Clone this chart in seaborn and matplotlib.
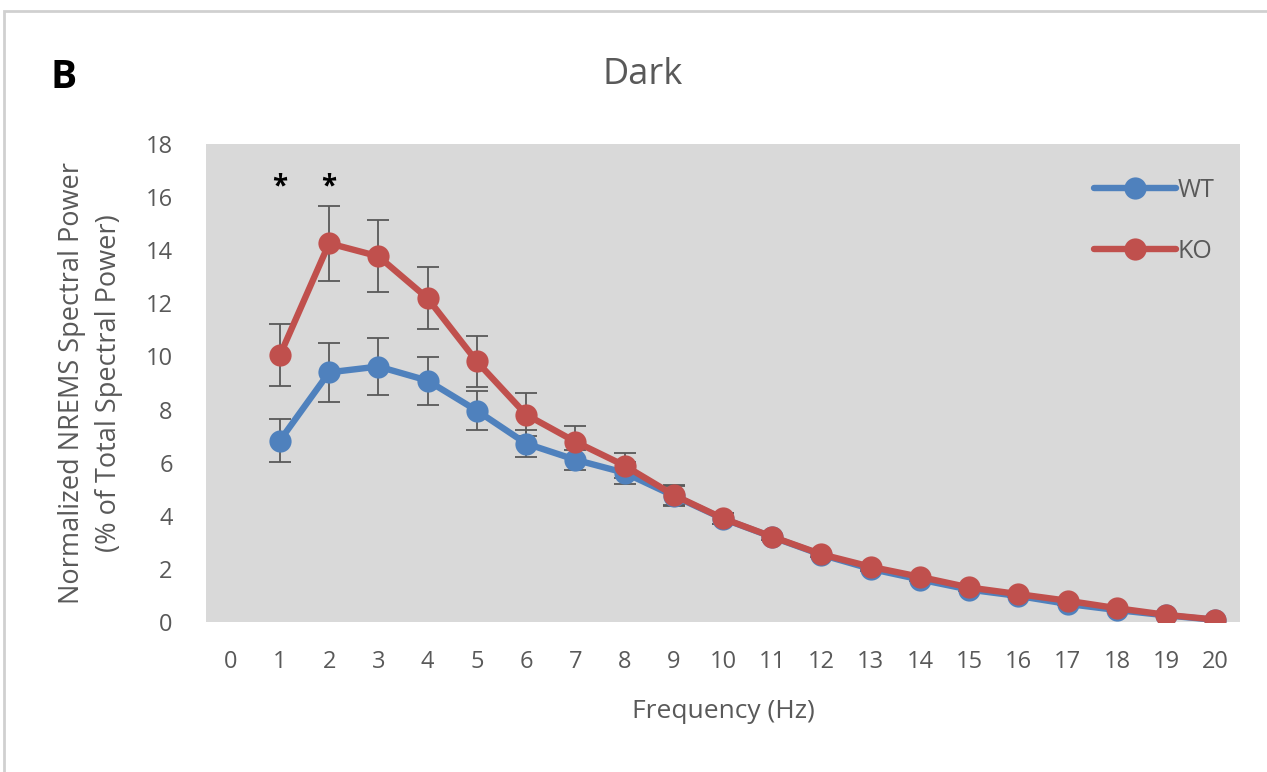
import numpy as np
import pandas as pd
import seaborn as sns
import matplotlib.pyplot as plt
from matplotlib.patches import Rectangle

# frequency bins (Hz) and values
freq = list(range(1, 21))
wt_mean = [6.83, 9.40, 9.62, 9.09, 7.96, 6.72, 6.11, 5.62, 4.75, 3.89,
           3.20, 2.53, 2.00, 1.60, 1.22, 0.98, 0.68, 0.45, 0.25, 0.08]
ko_mean = [10.04, 14.26, 13.77, 12.19, 9.81, 7.81, 6.79, 5.89, 4.78, 3.90,
           3.21, 2.55, 2.08, 1.70, 1.30, 1.05, 0.80, 0.52, 0.27, 0.09]
wt_err = [0.80, 1.10, 1.06, 0.90, 0.73, 0.50, 0.37, 0.42, 0.37, 0.20,
          0.12, 0.10, 0.08, 0.06, 0.05, 0.04, 0.04, 0.03, 0.02, 0.02]
ko_err = [1.17, 1.42, 1.36, 1.16, 0.96, 0.80, 0.60, 0.48, 0.38, 0.20,
          0.12, 0.10, 0.08, 0.06, 0.05, 0.04, 0.04, 0.03, 0.02, 0.02]
sig_freq = [1, 2]
x_ticks = list(range(0, 21))
y_ticks = list(range(0, 19, 2))

colors = {"WT": "#4F81BD", "KO": "#C0504D"}

df = pd.concat([
    pd.DataFrame({"freq": freq, "power": wt_mean, "err": wt_err, "group": "WT"}),
    pd.DataFrame({"freq": freq, "power": ko_mean, "err": ko_err, "group": "KO"}),
])

sns.set_style("white")
plt.rcParams['font.family'] = ['Open Sans', 'DejaVu Sans']
txt = "#595959"

fig = plt.figure(figsize=(12.67, 7.72), dpi=100)
ax = fig.add_axes([0.1626, 0.1943, 0.8161, 0.6192])
ax.set_facecolor("#D9D9D9")

# error bars first so lines sit on top
for g in ["WT", "KO"]:
    sub = df[df.group == g]
    ax.errorbar(sub.freq, sub.power, yerr=sub.err, fmt="none",
                ecolor="#595959", elinewidth=1.3, capsize=8, capthick=1.3, zorder=2)

sns.lineplot(data=df, x="freq", y="power", hue="group", palette=colors,
             marker="o", markersize=16, markeredgewidth=0, linewidth=4.6,
             ax=ax, zorder=3)

for f in sig_freq:
    ax.text(f, 16.4, "*", ha="center", va="center", fontsize=20,
            fontweight="bold", color="black")

ax.set_xlim(-0.5, 20.5)
ax.set_ylim(0, 18)
ax.set_xticks(x_ticks)
ax.set_yticks(y_ticks)
ax.tick_params(axis="x", length=0, labelsize=17, labelcolor=txt, pad=20)
ax.tick_params(axis="y", length=0, labelsize=17, labelcolor=txt, pad=24)
for s in ax.spines.values():
    s.set_visible(False)

ax.set_xlabel("Frequency (Hz)", fontsize=19, color=txt, labelpad=18)
ax.set_ylabel("Normalized NREMS Spectral Power\n(% of Total Spectral Power)",
              fontsize=19.5, color=txt, labelpad=16, linespacing=1.45)
fig.text(0.507, 0.903, "Dark", ha="center", va="center", fontsize=26, color=txt)
fig.text(0.050, 0.900, "B", ha="center", va="center", fontsize=28,
         fontweight="bold", color="black")

leg = ax.legend(loc="upper right", bbox_to_anchor=(0.985, 0.95), frameon=False,
                fontsize=18, labelspacing=1.45, handlelength=3.3,
                handletextpad=0.05, borderaxespad=0)
for t in leg.get_texts():
    t.set_color(txt)

# light frame around the figure
fig.patches.append(Rectangle((0.003, -0.01), 1.0, 0.996, transform=fig.transFigure,
                             fill=False, edgecolor="#D0D0D0", linewidth=2))

fig.savefig("out.png", dpi=100)
